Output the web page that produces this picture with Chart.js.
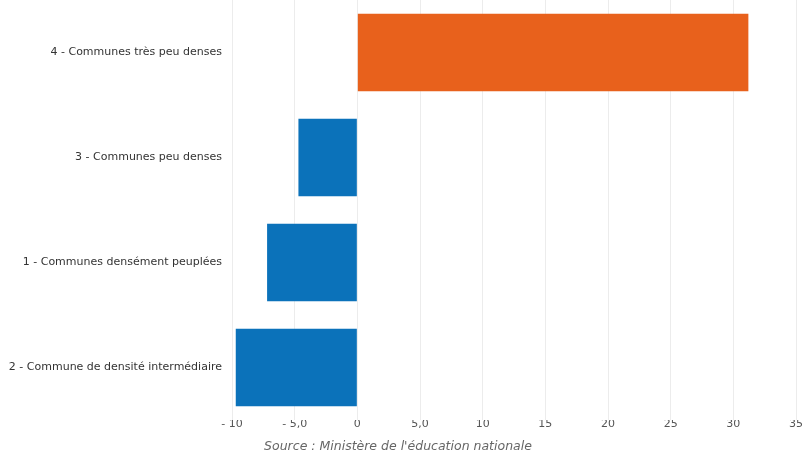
<!DOCTYPE html>
<html>
<head>
<meta charset="utf-8">
<script src="https://cdn.jsdelivr.net/npm/chart.js@4.4.0/dist/chart.umd.min.js"></script>
<style>
  html, body { margin: 0; padding: 0; background: #fff; }
  #wrap { width: 807px; height: 455px; }
</style>
</head>
<body>
<div id="wrap"><canvas id="chart"></canvas></div>
<script>
// Data
const categories = [
    '4 - Communes très peu denses',
    '3 - Communes peu denses',
    '1 - Communes densément peuplées',
    '2 - Commune de densité intermédiaire'
];
const values = [31.2, -4.7, -7.2, -9.7];
const xTickLabels = ['- 10', '- 5,0', '0', '5,0', '10', '15', '20', '25', '30', '35'];
const sourceText = 'Source : Ministère de l\'éducation nationale';

const orange = '#e8611c';
const blue = '#0b72ba';
const fontFamily = '"DejaVu Sans", Verdana, sans-serif';

const ctx = document.getElementById('chart').getContext('2d');
new Chart(ctx, {
    type: 'bar',
    data: {
        labels: categories,
        datasets: [{
            data: values,
            backgroundColor: values.map(v => v >= 0 ? orange : blue),
            barPercentage: 0.74,
            categoryPercentage: 1
        }]
    },
    options: {
        indexAxis: 'y',
        responsive: true,
        maintainAspectRatio: false,
        animation: false,
        layout: { padding: { top: -4, right: 11, left: 0, bottom: 0 } },
        plugins: {
            legend: { display: false },
            tooltip: { enabled: false },
            title: {
                display: true,
                position: 'bottom',
                text: sourceText,
                color: '#666',
                font: { family: fontFamily, size: 12.5, style: 'italic', weight: 'normal' },
                padding: { top: 5, bottom: 1 }
            }
        },
        scales: {
            x: {
                min: -10,
                max: 35,
                ticks: {
                    stepSize: 5,
                    color: '#555',
                    font: { family: fontFamily, size: 11 },
                    padding: -2,
                    callback: (val, i) => xTickLabels[i]
                },
                grid: { color: '#ececec', drawTicks: false },
                border: { display: false },
                afterFit: (scale) => { scale.height = 14; }
            },
            y: {
                ticks: {
                    color: '#333',
                    font: { family: fontFamily, size: 11 },
                    padding: 10
                },
                grid: { display: false, drawTicks: false },
                border: { display: false },
                afterFit: (scale) => {
                    scale.width = 232;
                    scale.paddingTop = 0;
                    scale.paddingBottom = 0;
                }
            }
        }
    }
});
</script>
</body>
</html>
